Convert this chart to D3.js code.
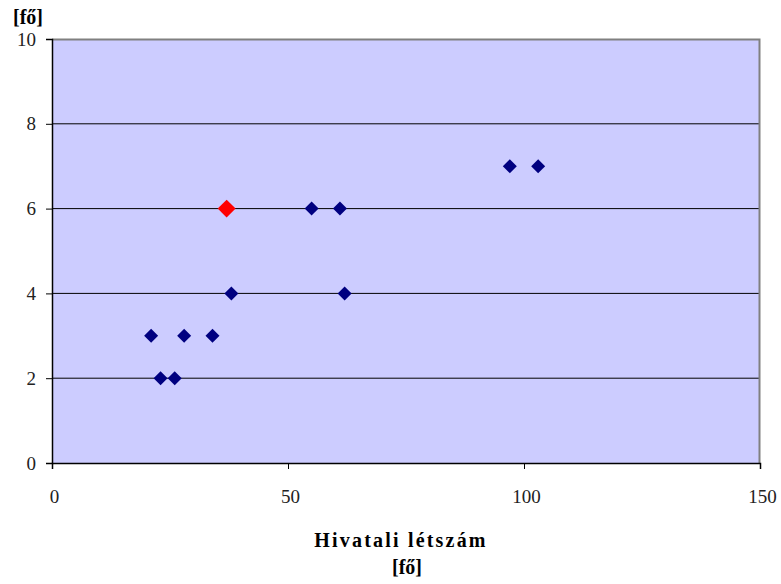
<!DOCTYPE html>
<html>
<head>
<meta charset="utf-8">
<script src="https://cdn.jsdelivr.net/npm/d3@7"></script>
<style>
body { margin: 0; background: #fff; }
</style>
</head>
<body>
<div id="chart"></div>
<script>
// staff vs value, one highlighted point
const staff = [21, 23, 26, 28, 34, 38, 55, 61, 62, 97, 103]
const people = [3, 2, 2, 3, 3, 4, 6, 6, 4, 7, 7]
const highlight = { staff: 37, people: 6 }

const xTicks = [0, 50, 100, 150]
const yTicks = [0, 2, 4, 6, 8, 10]

const width = 781, height = 584
const margin = { top: 39, right: 21, bottom: 121, left: 52 }
const serif = 'Liberation Serif'

let svg = d3.select('#chart').append('svg')
.attr('width', width)
.attr('height', height)
.attr('font-family', serif)

let xScale = d3.scaleLinear()
.domain([0, 150])
.range([margin.left, width - margin.right])

let yScale = d3.scaleLinear()
.domain([0, 10])
.range([height - margin.bottom, margin.top])

// plot background
svg.append('rect')
.attr('x', margin.left)
.attr('y', margin.top)
.attr('width', width - margin.left - margin.right)
.attr('height', height - margin.top - margin.bottom)
.attr('fill', '#ccccff')

// gridlines
svg.append('g')
.selectAll('line')
.data(yTicks.filter(d => d > 0 && d < 10))
.join('line')
.attr('x1', margin.left)
.attr('x2', width - margin.right)
.attr('y1', d => yScale(d))
.attr('y2', d => yScale(d))
.attr('stroke', '#000')
.attr('stroke-width', 1)

// top and right border
svg.append('path')
.attr('d', `M${margin.left},${margin.top + 0.5}H${width - margin.right - 0.5}V${height - margin.bottom}`)
.attr('fill', 'none')
.attr('stroke', '#808080')
.attr('stroke-width', 2)

let xaxis = svg.append('g')
.attr('transform', `translate(0,${height - margin.bottom})`)
.call(d3.axisBottom(xScale).tickValues(xTicks).tickSizeOuter(0).tickSize(6).tickPadding(21))
.attr('font-family', serif)
.attr('font-size', 19)

let yaxis = svg.append('g')
.attr('transform', `translate(${margin.left},0)`)
.call(d3.axisLeft(yScale).tickValues(yTicks).tickSizeOuter(0).tickSize(6).tickPadding(10))
.attr('font-family', serif)
.attr('font-size', 19)

svg.selectAll('.domain').attr('stroke', '#000').attr('stroke-width', 1.5)
svg.selectAll('.tick line').attr('stroke', '#000')
svg.selectAll('.tick text').attr('fill', '#222')
xaxis.selectAll('.tick text').attr('dx', 2)

// diamonds
svg.append('g')
.selectAll('path')
.data(staff.map((d, i) => ({ x: d, y: people[i] })))
.join('path')
.attr('d', d3.symbol().type(d3.symbolDiamond2).size(125))
.attr('transform', d => `translate(${xScale(d.x)},${yScale(d.y)})`)
.attr('fill', '#000080')

svg.append('path')
.attr('d', d3.symbol().type(d3.symbolDiamond2).size(205)())
.attr('transform', `translate(${xScale(highlight.staff)},${yScale(highlight.people)})`)
.attr('fill', '#ff0000')

// labels
svg.append('text')
.attr('x', 28)
.attr('y', 24)
.attr('text-anchor', 'middle')
.attr('font-size', 20)
.attr('font-weight', 'bold')
.text('[fő]')

svg.append('text')
.attr('x', 401)
.attr('y', 547)
.attr('text-anchor', 'middle')
.attr('font-size', 20)
.attr('font-weight', 'bold')
.attr('letter-spacing', 2.2)
.text('Hivatali létszám')

svg.append('text')
.attr('x', 407)
.attr('y', 574)
.attr('text-anchor', 'middle')
.attr('font-size', 20)
.attr('font-weight', 'bold')
.text('[fő]')
</script>
</body>
</html>
